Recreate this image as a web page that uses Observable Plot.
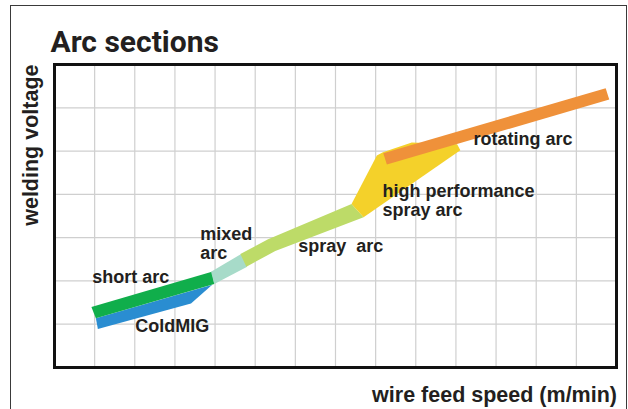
<!DOCTYPE html>
<html><head><meta charset="utf-8">
<script src="https://cdn.jsdelivr.net/npm/d3@7"></script>
<script src="https://cdn.jsdelivr.net/npm/@observablehq/plot@0.6"></script>
<style>
body{margin:0;background:#fff;}
#wrap{position:relative;width:628px;height:409px;overflow:hidden;background:#fff;}
#box{position:absolute;left:10px;top:5px;width:617px;height:520px;border:1.4px solid #3a3a3a;box-sizing:border-box;}
#chart{position:absolute;left:0;top:0;}
#chart svg text{white-space:pre;}
</style></head><body>
<div id="wrap"><div id="box"></div><div id="chart"></div></div>
<script>
// grid tick positions (arbitrary units)
const xTicks = [1,2,3,4,5,6,7,8,9,10,11,12,13];
const yTicks = [1,2,3,4,5,6];

// arc sections as polygon outlines (x = wire feed speed, y = welding voltage)
const sections = ["ColdMIG","short arc","mixed arc","spray arc","high performance spray arc","rotating arc"];
const sectionColors = ["#2a8dd1","#10ae4b","#a7dbc9","#bddb68","#f4d12a","#ef913a"];

const coldMigX = [1.03, 3.93, 3.40, 1.08];
const coldMigY = [1.14, 1.91, 1.48, 0.89];
const shortArcX = [0.92, 3.92, 3.98, 1.03];
const shortArcY = [1.40, 2.21, 1.93, 1.14];
const mixedArcX = [3.90, 4.65, 4.80, 3.98];
const mixedArcY = [2.21, 2.62, 2.33, 1.93];
const sprayArcX = [4.63, 5.32, 7.40, 7.70, 5.50, 4.78];
const sprayArcY = [2.62, 2.96, 3.78, 3.47, 2.69, 2.33];
const hpSprayX = [7.40, 8.03, 8.18, 8.90, 10.03, 10.11, 7.70];
const hpSprayY = [3.78, 4.90, 4.97, 5.20, 5.16, 5.02, 3.47];
const rotatingX = [8.19, 13.73, 13.82, 8.28];
const rotatingY = [4.95, 6.45, 6.19, 4.69];

const polyX = [coldMigX, shortArcX, mixedArcX, sprayArcX, hpSprayX, rotatingX];
const polyY = [coldMigY, shortArcY, mixedArcY, sprayArcY, hpSprayY, rotatingY];

// labels
const labelTexts = ["short arc","ColdMIG","mixed\narc","spray  arc","high performance\nspray arc","rotating arc"];
const labelX = [0.94, 2.01, 3.63, 6.07, 8.17, 10.44];
const labelY = [1.96, 0.81, 2.50, 2.66, 3.50, 5.13];

const title = "Arc sections";
const xLabel = "wire feed speed (m/min)";
const yLabel = "welding voltage";

const polyMarks = sections.map((s, k) => {
  const rows = polyX[k].map((x, i) => ({x, y: polyY[k][i]}));
  return Plot.line(rows, {x: "x", y: "y", fill: sectionColors[k], stroke: "none", curve: "linear-closed"});
});

const labels = labelTexts.map((t, i) => ({t, x: labelX[i], y: labelY[i]}));
const ink = "#231f20";

const chart = Plot.plot({
  width: 628, height: 409,
  marginLeft: 54, marginRight: 12, marginTop: 64, marginBottom: 42,
  style: {fontFamily: "'Liberation Sans', Arial, sans-serif", background: "transparent", overflow: "visible"},
  x: {domain: [0, 14], axis: null},
  y: {domain: [0, 7], axis: null},
  marks: [
    Plot.gridX(xTicks, {stroke: "#cfcfcf", strokeOpacity: 1, strokeWidth: 1.2}),
    Plot.gridY(yTicks, {stroke: "#cfcfcf", strokeOpacity: 1, strokeWidth: 1.2}),
    ...polyMarks,
    Plot.frame({stroke: "#111", strokeWidth: 3}),
    Plot.text(labels, {x: "x", y: "y", text: "t", textAnchor: "start", lineAnchor: "bottom", lineHeight: 1.08,
      fontSize: 18, fontWeight: "bold", fill: ink}),
    Plot.text([title], {frameAnchor: "top-left", dx: -4, dy: -12.3, textAnchor: "start", lineAnchor: "bottom",
      fontFamily: "Roboto", fontSize: 30, fontWeight: "bold", fill: ink}),
    Plot.text([xLabel], {frameAnchor: "bottom-right", dx: 0.5, dy: 34.7, textAnchor: "end", lineAnchor: "bottom",
      fontSize: 21.5, fontWeight: "bold", fill: ink}),
    Plot.text([yLabel], {frameAnchor: "top-left", dx: -17, dy: 0, rotate: -90, textAnchor: "end", lineAnchor: "bottom",
      fontSize: 21.5, fontWeight: "bold", fill: ink})
  ]
});
document.getElementById("chart").appendChild(chart);
</script>
</body></html>
